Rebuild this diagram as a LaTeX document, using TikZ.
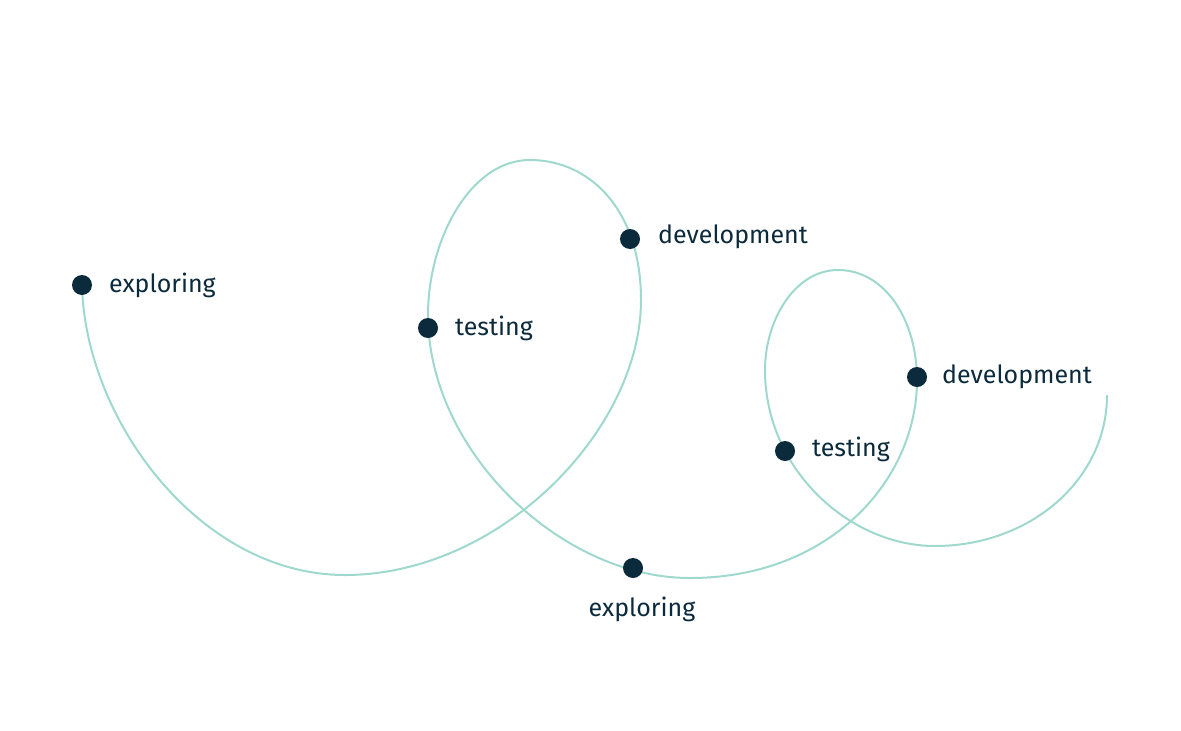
\documentclass[tikz,border=0pt]{standalone}
\usepackage{fontspec}
\setmainfont{Fira Sans}
\definecolor{navy}{HTML}{0B2A3C}
\definecolor{mint}{HTML}{9FD8CD}
\begin{document}
\begin{tikzpicture}[x=1pt,y=-1pt,
  dot/.style={circle,fill=navy,minimum size=20pt,inner sep=0pt},
  lbl/.style={text=navy,font=\fontsize{25}{28}\selectfont,inner sep=0pt}]
\useasboundingbox (0,0) rectangle (1181,731);
\draw[mint,line width=2pt] (82,285)
  .. controls (85,420) and (200,575) .. (345,575)
  .. controls (500,575) and (641,430) .. (641,300)
  .. controls (641,210) and (590,160) .. (530,160)
  .. controls (470,160) and (428,240) .. (428,315)
  .. controls (428,450) and (560,578) .. (690,578)
  .. controls (830,578) and (917,480) .. (917,380)
  .. controls (917,320) and (885,270) .. (838,270)
  .. controls (795,270) and (765,320) .. (765,370)
  .. controls (765,470) and (850,546) .. (935,546)
  .. controls (1030,546) and (1107,480) .. (1107,395);
\node[dot] (e1) at (82,285) {};
\node[dot] (t1) at (428,328) {};
\node[dot] (d1) at (630,239) {};
\node[dot] (e2) at (633,568) {};
\node[dot] (t2) at (785,451) {};
\node[dot] (d2) at (917,377) {};
\node[lbl,anchor=west] at (109,285) {exploring};
\node[lbl,anchor=west] at (455,328) {testing};
\node[lbl,anchor=west] at (658,237) {development};
\node[lbl] at (642,609) {exploring};
\node[lbl,anchor=west] at (812,449) {testing};
\node[lbl,anchor=west] at (942,377) {development};
\end{tikzpicture}
\end{document}
